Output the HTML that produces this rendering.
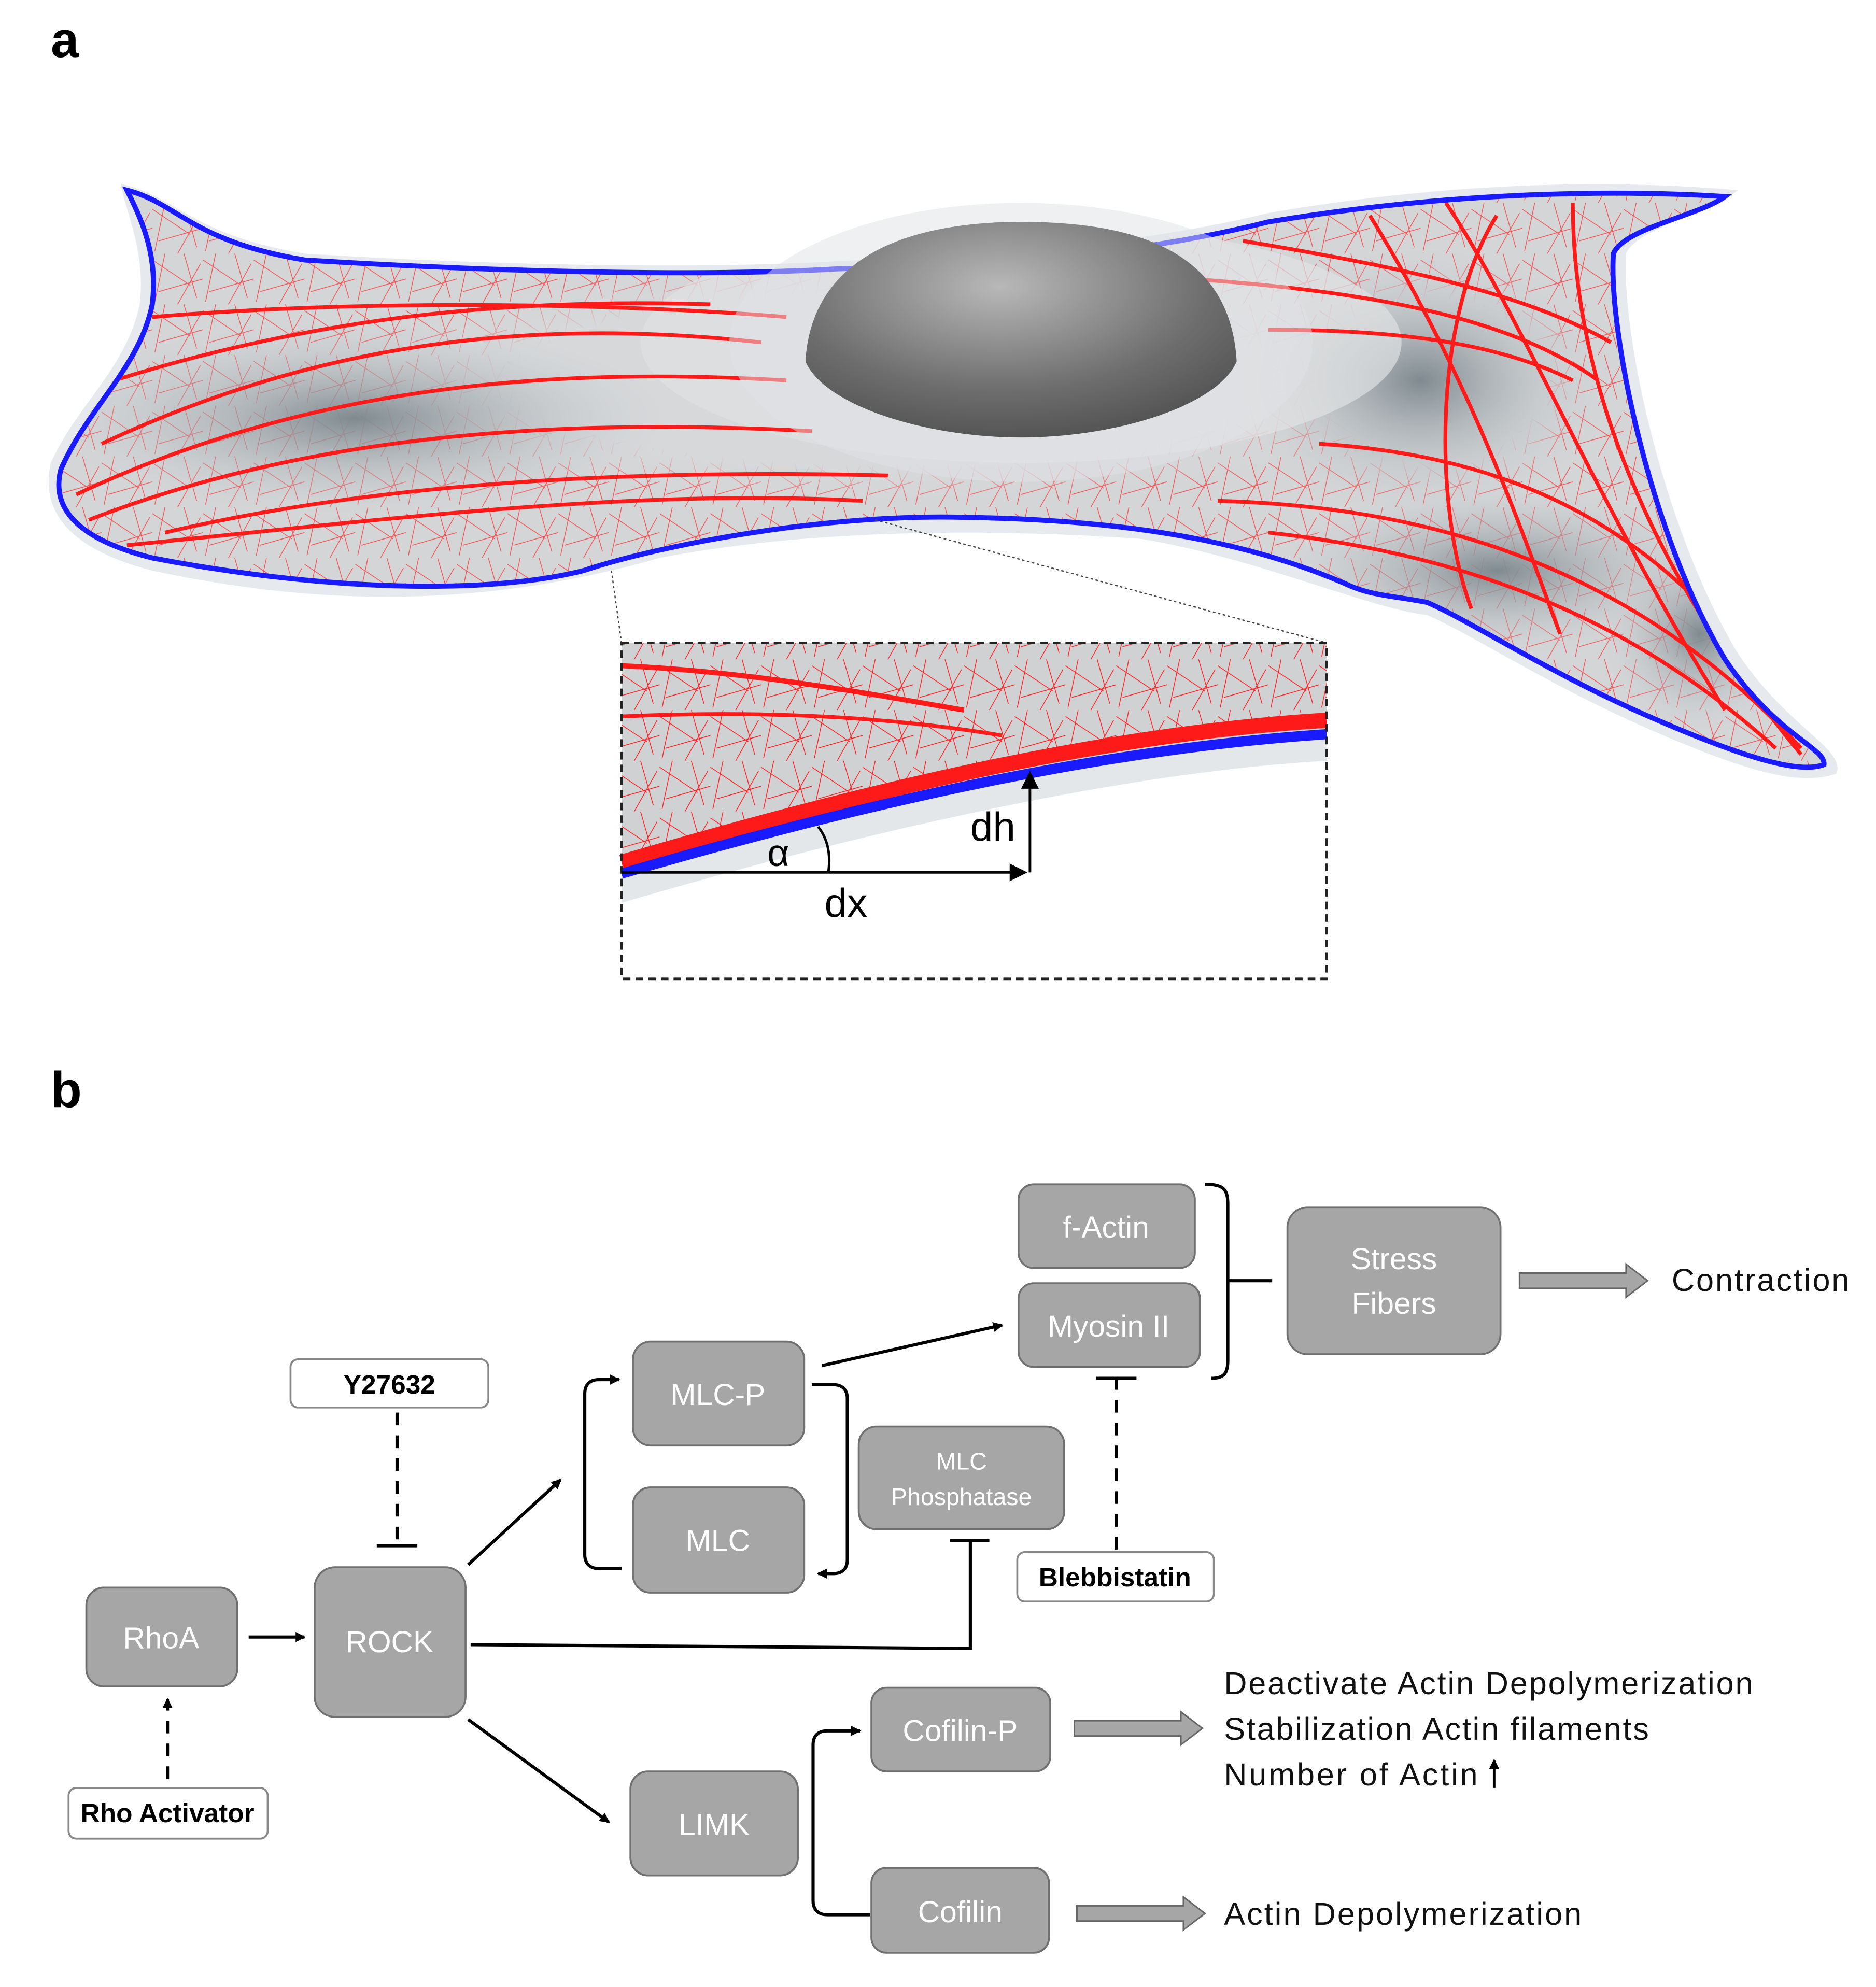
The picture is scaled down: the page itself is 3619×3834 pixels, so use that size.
<!DOCTYPE html>
<html><head><meta charset="utf-8"><style>
html,body{margin:0;padding:0;background:#fff;}
svg{display:block;}
text{font-family:"Liberation Sans",sans-serif;}
</style></head><body>
<svg width="3619" height="3834" viewBox="0 0 1479 1567" xmlns="http://www.w3.org/2000/svg">
<defs>
<radialGradient id="nuc" cx="0.45" cy="0.3" r="0.8">
<stop offset="0" stop-color="#b8b8b8"/><stop offset="0.6" stop-color="#6e6e6e"/><stop offset="1" stop-color="#4a4a4a"/></radialGradient>
<radialGradient id="blobL" cx="0.5" cy="0.5" r="0.5"><stop offset="0" stop-color="#7f8a90"/><stop offset="1" stop-color="#d4d6d8" stop-opacity="0"/></radialGradient>
<radialGradient id="mid" cx="0.5" cy="0.5" r="0.5"><stop offset="0" stop-color="#d6d8da"/><stop offset="0.7" stop-color="#d6d8da"/><stop offset="1" stop-color="#d6d8da" stop-opacity="0"/></radialGradient>
<pattern id="mesh" width="40" height="40" patternUnits="userSpaceOnUse">
<path d="M0 5 L30 25 M10 0 L2 38 M20 40 L38 8 M5 30 L40 20 M25 0 L35 35" stroke="#ff2020" stroke-width="0.6" fill="none"/>
</pattern>
<marker id="ar" markerWidth="8" markerHeight="8" refX="7" refY="4" orient="auto" markerUnits="userSpaceOnUse"><path d="M0 0 L8 4 L0 8z" fill="#000"/></marker>
<marker id="ars" markerWidth="14" markerHeight="14" refX="12" refY="7" orient="auto" markerUnits="userSpaceOnUse"><path d="M0 0 L14 7 L0 14z" fill="#000"/></marker>
<clipPath id="cellclip"><path id="cp" d="M100 150 C140 160 150 190 240 205 C400 215 560 218 660 212 C800 208 900 200 1000 175 C1150 150 1280 150 1360 155 C1340 170 1280 180 1272 200 C1268 260 1300 420 1360 520 C1400 580 1440 590 1438 603 C1420 610 1380 600 1300 565 C1220 530 1160 490 1125 475 C1100 470 1080 470 1060 460 C990 430 900 410 760 408 C650 405 520 430 460 450 C380 470 250 465 120 440 C60 425 40 400 48 370 C70 320 110 290 120 240 C125 200 110 170 100 150 Z"/></clipPath>
</defs>
<rect width="1479" height="1567" fill="#fff"/>
<text x="40" y="45" font-size="40" font-weight="bold">a</text>
<text x="40" y="873" font-size="40" font-weight="bold">b</text>

<path d="M95 145 C140 155 150 185 240 200 C400 210 560 212 660 206 C800 200 900 192 1000 168 C1150 142 1280 142 1370 150 C1350 168 1290 180 1282 200 C1278 260 1310 415 1370 515 C1410 575 1455 590 1448 610 C1420 620 1380 610 1300 575 C1220 540 1160 500 1125 485 C1080 480 990 440 900 425 C800 418 650 415 520 440 C380 480 250 478 120 450 C50 432 32 400 40 365 C60 320 100 290 110 240 C115 200 100 170 95 145Z" fill="#e6eaee"/>
<g clip-path="url(#cellclip)">
<rect x="0" y="100" width="1479" height="560" fill="#d3d5d7"/>
<rect x="0" y="100" width="1479" height="560" fill="url(#mesh)" opacity="0.7"/>
<ellipse cx="700" cy="300" rx="420" ry="95" fill="url(#mid)"/>
<ellipse cx="1130" cy="300" rx="120" ry="90" fill="url(#mid)"/>
<ellipse cx="280" cy="330" rx="260" ry="80" fill="url(#blobL)"/>
<ellipse cx="1120" cy="300" rx="160" ry="110" fill="url(#blobL)"/>
<ellipse cx="1180" cy="450" rx="180" ry="70" fill="url(#blobL)"/>
<ellipse cx="1340" cy="500" rx="80" ry="80" fill="url(#blobL)"/>
<ellipse cx="805" cy="270" rx="300" ry="95" fill="#dfe1e3" opacity="0.7"/>
<g stroke="#ff1a1a" fill="none" stroke-width="3">
<path d="M60 390 C250 300 450 290 620 300"/>
<path d="M70 410 C250 340 450 330 640 340"/>
<path d="M80 350 C250 270 420 250 600 270"/>
<path d="M120 250 C300 235 500 240 620 250"/>
<path d="M130 420 C300 380 500 370 700 375"/>
<path d="M90 300 C250 250 400 235 560 240"/>
<path d="M100 430 C300 410 500 385 680 395"/>
<path d="M980 190 C1100 210 1200 230 1270 270"/>
<path d="M940 220 C1080 230 1190 250 1260 300"/>
<path d="M1000 260 C1100 260 1180 270 1240 300"/>
<path d="M960 395 C1150 400 1300 460 1420 590"/>
<path d="M1000 420 C1180 440 1300 500 1400 590"/>
<path d="M1040 350 C1200 360 1300 420 1380 520"/>
<path d="M1140 160 C1200 250 1260 400 1360 560"/>
<path d="M1080 170 C1160 300 1200 420 1230 500"/>
<path d="M1240 160 C1240 300 1300 450 1420 595"/>
<path d="M1180 170 C1130 250 1130 400 1160 480"/>
<path d="M960 440 C1000 450 1060 460 1100 480"/>
</g>
</g>
<use href="#cp" fill="none" stroke="#1a1aff" stroke-width="4"/>
<ellipse cx="805" cy="270" rx="230" ry="110" fill="#dfe2e5" opacity="0.5"/>
<path d="M635 285 C640 200 720 175 805 175 C900 175 970 200 975 285 C960 320 880 345 805 345 C730 345 650 320 635 285Z" fill="url(#nuc)"/>

<line x1="482" y1="450" x2="490" y2="507" stroke="#444" stroke-width="1" stroke-dasharray="2,2"/>
<line x1="690" y1="410" x2="1046" y2="507" stroke="#444" stroke-width="1" stroke-dasharray="2,2"/>
<g>
<rect x="490" y="507" width="556" height="265" fill="#fff"/>
<path d="M490 507 H1046 V600 C900 608 700 650 490 712Z" fill="#e3e7ea"/>
<path d="M490 507 H1046 V575 C900 590 700 630 490 685Z" fill="#cfd1d3"/>
<path d="M490 507 H1046 V560 C900 575 700 620 490 680Z" fill="url(#mesh)"/>
<path d="M490 525 C600 530 700 550 760 560" stroke="#ff1a1a" stroke-width="4" fill="none"/>
<path d="M490 565 C600 560 700 565 790 580" stroke="#ff1a1a" stroke-width="3" fill="none"/>
<path d="M490 680 C700 618 880 578 1046 568" stroke="#ff1a1a" stroke-width="12" fill="none"/>
<path d="M490 689 C700 628 880 590 1046 579" stroke="#1a1aff" stroke-width="8" fill="none"/>
<rect x="490" y="507" width="556" height="265" fill="none" stroke="#222" stroke-width="2" stroke-dasharray="6,4"/>
<line x1="490" y1="688" x2="808" y2="688" stroke="#000" stroke-width="2" marker-end="url(#ars)"/>
<line x1="812" y1="688" x2="812" y2="610" stroke="#000" stroke-width="2" marker-end="url(#ars)"/>
<path d="M645 652 C653 662 655 675 653 688" stroke="#000" stroke-width="2" fill="none"/>
<text x="605" y="683" font-size="30">α</text>
<text x="765" y="663" font-size="32">dh</text>
<text x="650" y="723" font-size="32">dx</text>
</g>

<g fill="#a6a6a6" stroke="#707070" stroke-width="1.5">
<rect x="803" y="934" width="139" height="66" rx="12"/>
<rect x="803" y="1012" width="143" height="66" rx="12"/>
<rect x="1015" y="952" width="168" height="116" rx="16"/>
<rect x="499" y="1058" width="135" height="82" rx="14"/>
<rect x="499" y="1173" width="135" height="83" rx="14"/>
<rect x="677" y="1125" width="162" height="81" rx="14"/>
<rect x="68" y="1252" width="119" height="78" rx="14"/>
<rect x="248" y="1236" width="119" height="118" rx="16"/>
<rect x="497" y="1397" width="132" height="82" rx="14"/>
<rect x="687" y="1331" width="141" height="66" rx="12"/>
<rect x="687" y="1473" width="140" height="67" rx="12"/>
</g>
<g fill="#fff" stroke="#888" stroke-width="1.5">
<rect x="229" y="1072" width="156" height="38" rx="6"/>
<rect x="802" y="1224" width="155" height="39" rx="6"/>
<rect x="54" y="1410" width="157" height="40" rx="6"/>
</g>
<g fill="#fff" font-size="24" text-anchor="middle">
<text x="872" y="976">f-Actin</text>
<text x="874" y="1054">Myosin II</text>
<text x="1099" y="1001">Stress</text>
<text x="1099" y="1036">Fibers</text>
<text x="566" y="1108">MLC-P</text>
<text x="566" y="1223">MLC</text>
<text x="758" y="1159" font-size="19">MLC</text>
<text x="758" y="1187" font-size="19">Phosphatase</text>
<text x="127" y="1300">RhoA</text>
<text x="307" y="1303">ROCK</text>
<text x="563" y="1447">LIMK</text>
<text x="757" y="1373">Cofilin-P</text>
<text x="757" y="1516">Cofilin</text>
</g>
<g font-size="21" font-weight="bold" text-anchor="middle" fill="#000">
<text x="307" y="1099">Y27632</text>
<text x="879" y="1251">Blebbistatin</text>
<text x="132" y="1437">Rho Activator</text>
</g>
<g font-size="25" fill="#111">
<text x="1318" y="1018" textLength="140">Contraction</text>
<text x="965" y="1336" textLength="417">Deactivate Actin Depolymerization</text>
<text x="965" y="1372" textLength="335">Stabilization Actin filaments</text>
<text x="965" y="1408" textLength="200">Number of Actin</text>
<text x="965" y="1518" textLength="282">Actin Depolymerization</text>
</g>
<line x1="1178" y1="1410" x2="1178" y2="1388" stroke="#000" stroke-width="2" marker-end="url(#ar)"/>
<g fill="#a6a6a6" stroke="#666" stroke-width="1.2">
<path d="M1198 1004 H1282 V997 L1299 1010 L1282 1023 V1016 H1198Z"/>
<path d="M847 1357 H931 V1350 L948 1363 L931 1376 V1369 H847Z"/>
<path d="M849 1503 H933 V1496 L950 1509 L933 1522 V1515 H849Z"/>
</g>
<g stroke="#000" stroke-width="2.5" fill="none">
<path d="M950 934 C965 934 968 938 968 950 V1073 C968 1083 965 1087 955 1087"/>
<line x1="968" y1="1010" x2="1003" y2="1010"/>
<line x1="196" y1="1291" x2="240" y2="1291" marker-end="url(#ar)"/>
<line x1="369" y1="1234" x2="442" y2="1167" marker-end="url(#ar)"/>
<line x1="369" y1="1356" x2="480" y2="1437" marker-end="url(#ar)"/>
<line x1="648" y1="1077" x2="790" y2="1045" marker-end="url(#ar)"/>
<path d="M490 1237 H472 C465 1237 461 1233 461 1226 V1099 C461 1092 465 1088 472 1088 H488" marker-end="url(#ar)"/>
<path d="M640 1092 H657 C664 1092 668 1096 668 1103 V1230 C668 1237 664 1241 657 1241 H645" marker-end="url(#ar)"/>
<path d="M686 1510 H652 C645 1510 641 1506 641 1499 V1376 C641 1369 645 1365 652 1365 H678" marker-end="url(#ar)"/>
<path d="M371 1297 L765 1300 V1215"/>
<line x1="749" y1="1215" x2="780" y2="1215"/>
<line x1="313" y1="1114" x2="313" y2="1218" stroke-dasharray="10,8"/>
<line x1="297" y1="1219" x2="329" y2="1219"/>
<line x1="880" y1="1222" x2="880" y2="1088" stroke-dasharray="10,8"/>
<line x1="864" y1="1087" x2="896" y2="1087"/>
<line x1="132" y1="1403" x2="132" y2="1340" stroke-dasharray="10,8" marker-end="url(#ar)"/>
</g>
</svg>
</body></html>
